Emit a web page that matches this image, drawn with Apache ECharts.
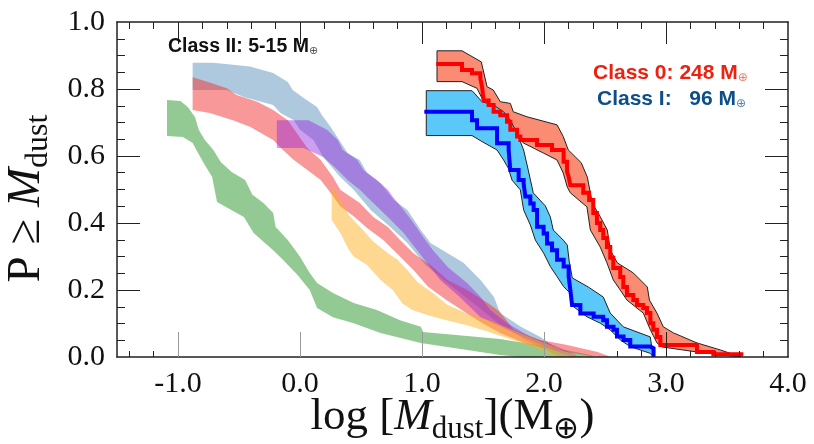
<!DOCTYPE html>
<html><head><meta charset="utf-8">
<script src="https://cdn.jsdelivr.net/npm/echarts@6/dist/echarts.min.js"></script>
<style>html,body{margin:0;padding:0;background:#fff}#c{width:814px;height:444px}</style>
</head><body><div id="c"></div>
<script>
// ---------- axis ranges / ticks ----------
const xMin = -1.5, xMax = 4.0;
const yMin = 0, yMax = 1.0;
const xLabelValues = [-1, 0, 1, 2, 3, 4];
const xBottomMinorTicks = [-1.4, -1.2, 2.6, 2.8, 3.2, 3.4, 3.6, 3.8];
const xBottomGrayTicks = [-1, 0, 1, 2];
const xBottomBlackTicks = [3];
const xTopMinorTicks = [-1.4, -1.2, -0.8, -0.6, -0.4, -0.2, 0.2, 0.4, 0.6, 0.8, 1.2, 1.4, 1.6, 1.8, 2.2, 2.4, 2.6, 2.8, 3.2, 3.4, 3.6, 3.8];
const xTopMajorTicks = [-1, 0, 1, 2, 3];
const yLabelValues = [0, 0.2, 0.4, 0.6, 0.8, 1.0];
const yMajorTicks = [0.2, 0.4, 0.6, 0.8];
const yMinorTicks = [0.05, 0.1, 0.15, 0.25, 0.3, 0.35, 0.45, 0.5, 0.55, 0.65, 0.7, 0.75, 0.85, 0.9, 0.95];

// ---------- Class II bands (upper / lower edges, [log Mdust, P]) ----------
const greenUpper = [[-1.09,0.767],[-0.98,0.764],[-0.92,0.746],[-0.86,0.716],[-0.83,0.678],[-0.78,0.648],[-0.71,0.618],[-0.65,0.582],[-0.56,0.552],[-0.45,0.528],[-0.39,0.484],[-0.30,0.460],[-0.22,0.430],[-0.20,0.388],[-0.10,0.349],[0.00,0.299],[0.08,0.251],[0.14,0.221],[0.27,0.191],[0.44,0.161],[0.63,0.140],[0.82,0.110],[0.99,0.090],[1.01,0.075],[1.37,0.063],[1.64,0.054],[1.89,0.039],[2.13,0.024],[2.38,0.006],[2.42,0.0]];
const greenLower = [[-1.09,0.660],[-0.96,0.657],[-0.88,0.639],[-0.84,0.612],[-0.79,0.579],[-0.72,0.537],[-0.70,0.500],[-0.68,0.463],[-0.46,0.418],[-0.38,0.370],[-0.22,0.319],[-0.14,0.290],[-0.02,0.245],[0.08,0.200],[0.14,0.146],[0.27,0.119],[0.44,0.101],[0.66,0.072],[0.99,0.042],[1.37,0.021],[1.64,0.006],[1.81,0.0]];

const lightBlueUpper = [[-0.88,0.878],[-0.71,0.878],[-0.41,0.867],[-0.22,0.848],[-0.10,0.821],[-0.06,0.797],[0.03,0.773],[0.14,0.746],[0.18,0.722],[0.25,0.687],[0.39,0.609],[0.49,0.588],[0.55,0.549],[0.66,0.519],[0.77,0.469],[0.88,0.439],[0.99,0.379],[1.07,0.340],[1.21,0.310],[1.34,0.281],[1.48,0.230],[1.59,0.179],[1.64,0.131],[1.81,0.090],[1.97,0.060],[2.09,0.030],[2.18,0.006],[2.20,0.0]];
const lightBlueLower = [[-0.88,0.797],[-0.60,0.797],[-0.46,0.776],[-0.22,0.752],[-0.16,0.728],[-0.05,0.707],[0.00,0.678],[0.11,0.648],[0.19,0.597],[0.33,0.537],[0.44,0.499],[0.58,0.439],[0.74,0.388],[0.88,0.340],[1.03,0.275],[1.23,0.215],[1.44,0.155],[1.64,0.096],[1.85,0.051],[2.05,0.015],[2.13,0.0]];

const pinkUpper = [[-0.88,0.835],[-0.76,0.822],[-0.60,0.802],[-0.52,0.782],[-0.35,0.762],[-0.22,0.737],[-0.10,0.707],[0.06,0.624],[0.17,0.588],[0.27,0.537],[0.33,0.499],[0.49,0.460],[0.60,0.418],[0.72,0.388],[0.82,0.349],[0.93,0.310],[1.09,0.269],[1.21,0.230],[1.37,0.200],[1.54,0.161],[1.64,0.134],[1.75,0.081],[1.97,0.051],[2.19,0.036],[2.44,0.015],[2.55,0.0]];
const pinkLower = [[-0.88,0.737],[-0.74,0.728],[-0.55,0.707],[-0.41,0.687],[-0.22,0.648],[-0.14,0.618],[-0.05,0.588],[0.06,0.558],[0.17,0.528],[0.25,0.490],[0.33,0.450],[0.44,0.420],[0.55,0.385],[0.68,0.350],[0.82,0.300],[0.93,0.260],[1.05,0.210],[1.20,0.170],[1.37,0.130],[1.50,0.100],[1.65,0.070],[1.85,0.040],[2.10,0.020],[2.35,0.005],[2.45,0.0]];

const purpleUpper = [[-0.19,0.707],[0.07,0.707],[0.22,0.678],[0.31,0.648],[0.35,0.618],[0.47,0.588],[0.52,0.558],[0.63,0.528],[0.72,0.499],[0.76,0.478],[0.85,0.439],[0.93,0.400],[1.01,0.358],[1.09,0.319],[1.21,0.269],[1.37,0.221],[1.48,0.179],[1.56,0.140],[1.70,0.101],[1.89,0.060],[2.03,0.042],[2.13,0.027],[2.26,0.006],[2.28,0.0]];
const purpleLower = [[-0.19,0.624],[0.03,0.624],[0.19,0.597],[0.31,0.558],[0.39,0.528],[0.49,0.499],[0.60,0.460],[0.72,0.418],[0.85,0.370],[0.96,0.319],[1.15,0.230],[1.31,0.179],[1.48,0.119],[1.70,0.081],[1.89,0.051],[2.08,0.021],[2.22,0.0]];

const yellowUpper = [[0.26,0.508],[0.33,0.469],[0.40,0.424],[0.50,0.385],[0.60,0.345],[0.72,0.310],[0.80,0.290],[0.88,0.260],[0.96,0.225],[1.09,0.190],[1.21,0.155],[1.37,0.130],[1.55,0.110],[1.75,0.080],[1.95,0.050],[2.15,0.020],[2.30,0.0]];
const yellowLower = [[0.26,0.409],[0.33,0.370],[0.40,0.320],[0.44,0.300],[0.55,0.275],[0.66,0.230],[0.76,0.200],[0.84,0.160],[0.92,0.140],[1.05,0.125],[1.20,0.110],[1.37,0.095],[1.55,0.075],[1.75,0.050],[1.95,0.025],[2.10,0.0]];

// ---------- Class 0 and Class I ----------
const class0Upper = [[1.123,0.914],[1.328,0.914],[1.486,0.881],[1.533,0.807],[1.584,0.797],[1.642,0.762],[1.724,0.757],[1.748,0.732],[1.861,0.717],[2.107,0.693],[2.158,0.658],[2.199,0.618],[2.305,0.580],[2.355,0.537],[2.396,0.460],[2.462,0.418],[2.519,0.379],[2.544,0.319],[2.601,0.281],[2.732,0.251],[2.847,0.209],[2.864,0.170],[2.926,0.131],[2.978,0.090],[3.061,0.072],[3.254,0.042],[3.445,0.021],[3.617,0.0]];
const class0Lower = [[1.123,0.822],[1.328,0.822],[1.451,0.802],[1.492,0.772],[1.533,0.747],[1.697,0.707],[1.779,0.668],[1.830,0.639],[1.994,0.609],[2.107,0.588],[2.158,0.549],[2.191,0.507],[2.216,0.490],[2.352,0.448],[2.380,0.379],[2.461,0.328],[2.516,0.281],[2.568,0.230],[2.625,0.200],[2.680,0.170],[2.814,0.131],[2.872,0.081],[2.926,0.042],[2.967,0.030],[3.254,0.015],[3.609,0.0]];
const class0Line = [[1.117,0.875],[1.328,0.857],[1.41,0.847],[1.478,0.832],[1.492,0.807],[1.505,0.766],[1.546,0.752],[1.587,0.732],[1.642,0.722],[1.697,0.702],[1.724,0.678],[1.779,0.658],[1.806,0.648],[1.943,0.633],[2.066,0.618],[2.161,0.583],[2.189,0.553],[2.202,0.538],[2.216,0.513],[2.322,0.490],[2.37,0.469],[2.404,0.430],[2.434,0.400],[2.461,0.379],[2.486,0.355],[2.516,0.328],[2.543,0.296],[2.568,0.266],[2.625,0.239],[2.65,0.209],[2.68,0.185],[2.732,0.170],[2.762,0.155],[2.814,0.146],[2.844,0.131],[2.872,0.101],[2.896,0.081],[2.926,0.060],[2.954,0.036],[3.254,0.015],[3.388,0.008],[3.634,0.008]];

const class1Upper = [[1.035,0.795],[1.410,0.795],[1.492,0.762],[1.587,0.752],[1.669,0.732],[1.724,0.707],[1.779,0.668],[1.833,0.618],[1.871,0.558],[1.912,0.490],[2.011,0.451],[2.052,0.418],[2.076,0.379],[2.158,0.349],[2.191,0.334],[2.207,0.284],[2.232,0.236],[2.363,0.209],[2.486,0.179],[2.543,0.131],[2.650,0.090],[2.871,0.060],[2.896,0.0]];
const class1Lower = [[1.035,0.661],[1.410,0.661],[1.492,0.643],[1.615,0.618],[1.669,0.588],[1.707,0.564],[1.738,0.528],[1.806,0.499],[1.833,0.439],[1.888,0.394],[1.929,0.349],[1.997,0.310],[2.052,0.270],[2.107,0.240],[2.161,0.210],[2.216,0.190],[2.243,0.150],[2.352,0.120],[2.461,0.101],[2.543,0.081],[2.625,0.051],[2.707,0.031],[2.871,0.011],[2.898,0.0]];
const class1Line = [[1.019,0.732],[1.41,0.707],[1.451,0.683],[1.615,0.638],[1.710,0.618],[1.724,0.558],[1.792,0.528],[1.833,0.518],[1.847,0.479],[1.888,0.458],[1.915,0.439],[1.943,0.389],[1.997,0.369],[2.025,0.339],[2.066,0.319],[2.107,0.290],[2.161,0.270],[2.202,0.240],[2.216,0.200],[2.230,0.155],[2.298,0.130],[2.407,0.120],[2.486,0.110],[2.516,0.090],[2.570,0.081],[2.598,0.061],[2.652,0.051],[2.707,0.031],[2.871,0.026],[2.898,0.0]];

// ---------- texts ----------
const labelClassII = 'Class II: 5-15 M';
const labelClass0 = 'Class 0: 248 M';
const labelClassI = 'Class I:   96 M';

const chart = echarts.init(document.getElementById('c'), null, {renderer: 'canvas'});

function band(name, upper, lower, fill, stroke, z) {
  const pts = upper.concat(lower.slice().reverse());
  return {
    type: 'custom', name: name, xAxisIndex: 0, yAxisIndex: 0, z: z, silent: true, clip: true,
    data: pts, encode: {x: 0, y: 1},
    renderItem: function (params, api) {
      if (params.dataIndex !== 0) return null;
      const points = pts.map(function (p) { return api.coord(p); });
      return {type: 'polygon', shape: {points: points},
        style: {fill: fill, stroke: stroke || null, lineWidth: stroke ? 1 : 0}};
    }
  };
}

const serif = 'Liberation Serif';
const tickCol = '#222';
function xAx(extra) {
  return Object.assign({type: 'value', min: xMin, max: xMax, gridIndex: 0, z: 20,
    splitLine: {show: false}, axisLine: {show: false, onZero: false}, axisLabel: {show: false}, axisTick: {show: false}}, extra);
}
function yAx(extra) {
  return Object.assign({type: 'value', min: yMin, max: yMax, gridIndex: 0, z: 20,
    splitLine: {show: false}, axisLine: {show: false, onZero: false}, axisLabel: {show: false}, axisTick: {show: false}}, extra);
}
function nameRich(fs, sub, pad) {
  return {
    n: {fontFamily: serif, fontSize: fs, color: '#111', verticalAlign: 'top'},
    i: {fontFamily: serif, fontSize: fs, fontStyle: 'italic', color: '#111', verticalAlign: 'top'},
    s: {fontFamily: serif, fontSize: sub, color: '#111', verticalAlign: 'top', padding: [pad, 0, 0, 0]}
  };
}

const option = {
  animation: false,
  backgroundColor: '#fff',
  grid: {left: 117, top: 22, right: 26, bottom: 87, containLabel: false, outerBoundsMode: 'none'},
  xAxis: [
    xAx({position: 'bottom',
      axisLine: {show: true, onZero: false, lineStyle: {color: tickCol, width: 1.5}},
      axisLabel: {show: true, customValues: xLabelValues, formatter: function (v) { return v.toFixed(1); },
        fontFamily: serif, fontSize: 30, color: '#111', margin: 12},
      axisTick: {show: true, inside: true, customValues: xBottomMinorTicks, length: 6, lineStyle: {color: tickCol, width: 1}},
      name: '{n|log [}{i|M}{s|dust}{n|](M}{s|⊕}{n|)}', nameLocation: 'middle', nameGap: 38, nameMoveOverlap: false,
      nameTextStyle: {rich: nameRich(45, 31, 19)}}),
    xAx({position: 'bottom', axisTick: {show: true, inside: true, customValues: xBottomGrayTicks, length: 25, lineStyle: {color: '#999', width: 1}}}),
    xAx({position: 'bottom', axisTick: {show: true, inside: true, customValues: xBottomBlackTicks, length: 25, lineStyle: {color: tickCol, width: 1}}}),
    xAx({position: 'top', axisLine: {show: true, onZero: false, lineStyle: {color: tickCol, width: 1.5}},
      axisTick: {show: true, inside: true, customValues: xTopMinorTicks, length: 7, lineStyle: {color: tickCol, width: 1}}}),
    xAx({position: 'top', axisTick: {show: true, inside: true, customValues: xTopMajorTicks, length: 22, lineStyle: {color: tickCol, width: 1}}})
  ],
  yAxis: [
    yAx({position: 'left',
      axisLine: {show: true, onZero: false, lineStyle: {color: tickCol, width: 1.5}},
      axisLabel: {show: true, customValues: yLabelValues, formatter: function (v) { return v.toFixed(1); },
        fontFamily: serif, fontSize: 30, color: '#111', margin: 12},
      axisTick: {show: true, inside: true, customValues: yMajorTicks, length: 23, lineStyle: {color: tickCol, width: 1}},
      name: '{n|P ≥ }{i|M}{s|dust}', nameLocation: 'middle', nameRotate: 90, nameGap: 62,
      nameTextStyle: {rich: nameRich(47, 32, 20), padding: [0, 18, 0, 0]}}),
    yAx({position: 'left', axisTick: {show: true, inside: true, customValues: yMinorTicks, length: 8, lineStyle: {color: tickCol, width: 1}}}),
    yAx({position: 'right', axisLine: {show: true, onZero: false, lineStyle: {color: tickCol, width: 1.5}},
      axisTick: {show: true, inside: true, customValues: yMajorTicks, length: 23, lineStyle: {color: tickCol, width: 1}}}),
    yAx({position: 'right', axisTick: {show: true, inside: true, customValues: yMinorTicks, length: 8, lineStyle: {color: tickCol, width: 1}}})
  ],
  series: [
    band('green', greenUpper, greenLower, 'rgba(40,150,40,0.5)', null, 2),
    band('lightblue', lightBlueUpper, lightBlueLower, 'rgba(93,145,189,0.5)', null, 3),
    band('pink', pinkUpper, pinkLower, 'rgba(241,49,49,0.5)', null, 4),
    band('purple', purpleUpper, purpleLower, 'rgba(150,40,220,0.45)', null, 5),
    band('yellow', yellowUpper, yellowLower, 'rgba(253,175,35,0.5)', null, 6),
    band('class0', class0Upper, class0Lower, '#fa8c74', '#222', 7),
    band('class1', class1Upper, class1Lower, '#5bc8fa', '#222', 8),
    {type: 'line', name: 'Class I', data: class1Line, step: 'end', showSymbol: false, silent: true, z: 9,
      lineStyle: {color: '#0000ff', width: 4, join: 'miter', cap: 'butt'}},
    {type: 'line', name: 'Class 0', data: class0Line, step: 'end', showSymbol: false, silent: true, z: 10,
      lineStyle: {color: '#ff0000', width: 4, join: 'miter', cap: 'butt'}}
  ],
  graphic: [
    {type: 'text', x: 168, y: 47, z: 30, style: {text: '{a|' + labelClassII + '}{b|⊕}', verticalAlign: 'middle', align: 'left',
      rich: {a: {fontFamily: 'Liberation Sans', fontWeight: 'bold', fontSize: 19.5, fill: '#111'},
             b: {fontFamily: 'DejaVu Sans', fontSize: 11, fill: '#555', verticalAlign: 'bottom', lineHeight: 14}}}},
    {type: 'text', x: 593, y: 73, z: 30, style: {text: '{a|' + labelClass0 + '}{b|⊕}', verticalAlign: 'middle', align: 'left',
      rich: {a: {fontFamily: 'Liberation Sans', fontWeight: 'bold', fontSize: 21, fill: '#ee2010'},
             b: {fontFamily: 'DejaVu Sans', fontSize: 12, fill: '#f07a66', verticalAlign: 'bottom', lineHeight: 14}}}},
    {type: 'text', x: 597, y: 99, z: 30, style: {text: '{a|' + labelClassI + '}{b|⊕}', verticalAlign: 'middle', align: 'left',
      rich: {a: {fontFamily: 'Liberation Sans', fontWeight: 'bold', fontSize: 21, fill: '#0c4e89'},
             b: {fontFamily: 'DejaVu Sans', fontSize: 12, fill: '#5a82b0', verticalAlign: 'bottom', lineHeight: 14}}}}
  ]
};
chart.setOption(option);
</script>
</body></html>
